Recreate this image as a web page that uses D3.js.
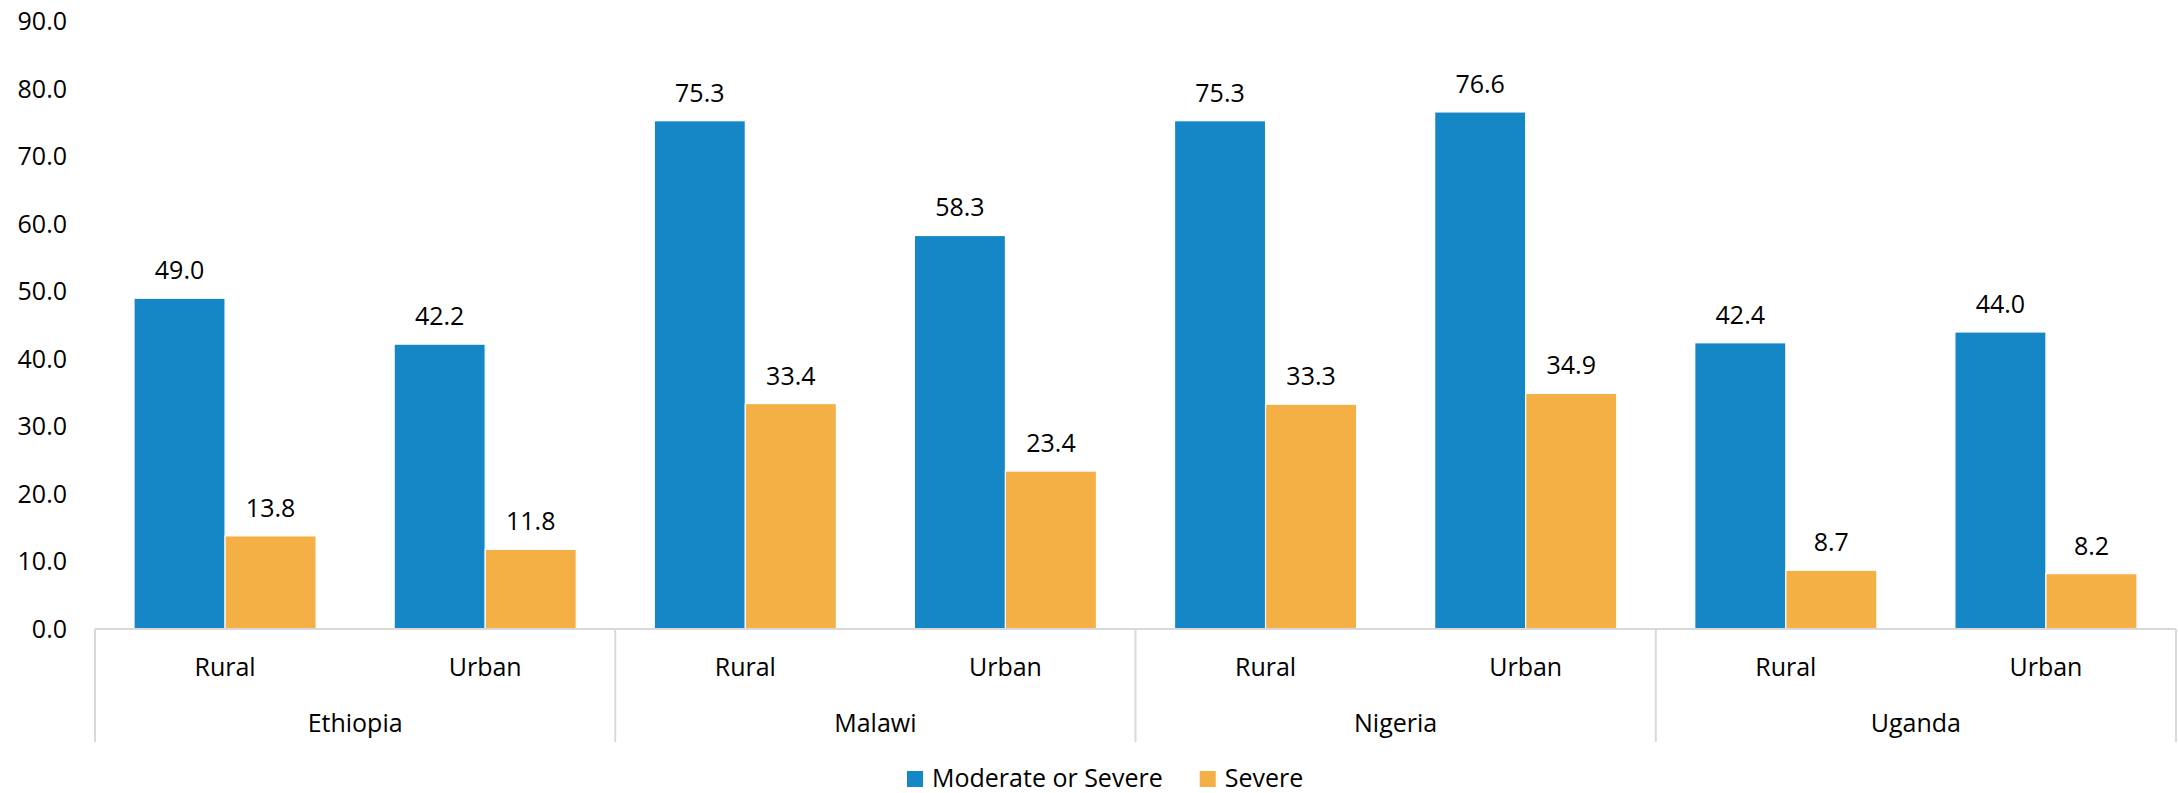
<!DOCTYPE html>
<html>
<head>
<meta charset="utf-8">
<script src="https://cdn.jsdelivr.net/npm/d3@7"></script>
<style>
  html, body { margin: 0; padding: 0; background: #fff; }
  svg { display: block; font-family: "Open Sans", sans-serif; }
</style>
</head>
<body>
<svg id="chart" width="2178" height="793"></svg>
<script>
const countries = ["Ethiopia", "Malawi", "Nigeria", "Uganda"];
const areas = ["Rural", "Urban"];
const seriesNames = ["Moderate or Severe", "Severe"];
const moderateOrSevere = [49.0, 42.2, 75.3, 58.3, 75.3, 76.6, 42.4, 44.0];
const severe = [13.8, 11.8, 33.4, 23.4, 33.3, 34.9, 8.7, 8.2];
const yTicks = [0, 10, 20, 30, 40, 50, 60, 70, 80, 90];
const colors = ["#1586C6", "#F4AF45"];

(function () {
const svg = d3.select("#chart");
const mLeft = 95, mRight = 2176, mTop = 21.5, base = 629, boxBottom = 742;
const fontSize = 25;

const cats = [];
countries.forEach(c => areas.forEach(a => cats.push(c + "|" + a)));

const x = d3.scaleBand().domain(cats).range([mLeft, mRight]).paddingInner(0.3).paddingOuter(0.15);
const xg = d3.scaleBand().domain(countries).range([mLeft, mRight]);
const xs = d3.scaleBand().domain(seriesNames).range([0, x.bandwidth()]);
const y = d3.scaleLinear().domain([0, 90]).range([base, mTop]);

// Y axis labels
const yAxis = d3.axisLeft(y).tickValues(yTicks).tickFormat(d3.format(".1f")).tickSize(0).tickPadding(28);
const ya = svg.append("g").attr("transform", `translate(${mLeft},0)`).call(yAxis);
ya.select(".domain").remove();
ya.selectAll("text").attr("font-size", fontSize).attr("fill", "#000").attr("font-family", "Open Sans");

// Bars
const rows = cats.map((c, i) => ({ cat: c, vals: [moderateOrSevere[i], severe[i]] }));
const g = svg.append("g");
rows.forEach(r => {
  r.vals.forEach((v, j) => {
    const bx = x(r.cat) + xs(seriesNames[j]);
    g.append("rect")
      .attr("x", bx).attr("y", y(v))
      .attr("width", xs.bandwidth()).attr("height", y(0) - y(v))
      .attr("fill", colors[j]).attr("stroke", "#fff").attr("stroke-width", 1.2);
    g.append("text")
      .attr("x", bx + xs.bandwidth() / 2).attr("y", y(v) - 19)
      .attr("text-anchor", "middle").attr("font-size", fontSize).attr("fill", "#000")
      .text(d3.format(".1f")(v));
  });
});

// Category axis box
const axisG = svg.append("g");
axisG.append("line").attr("x1", mLeft).attr("x2", mRight).attr("y1", base).attr("y2", base)
  .attr("stroke", "#D9D9D9").attr("stroke-width", 2);
const dividers = countries.map(c => xg(c)).concat([mRight]);
dividers.forEach(dx => {
  axisG.append("line").attr("x1", dx).attr("x2", dx).attr("y1", base).attr("y2", boxBottom)
    .attr("stroke", "#D9D9D9").attr("stroke-width", 2);
});
cats.forEach(c => {
  axisG.append("text").attr("x", x(c) + x.bandwidth() / 2).attr("y", 667)
    .attr("dy", "0.35em").attr("text-anchor", "middle").attr("font-size", fontSize).attr("fill", "#000")
    .text(c.split("|")[1]);
});
countries.forEach(c => {
  axisG.append("text").attr("x", xg(c) + xg.bandwidth() / 2).attr("y", 723)
    .attr("dy", "0.35em").attr("text-anchor", "middle").attr("font-size", fontSize).attr("fill", "#000")
    .text(c);
});

// Legend
const leg = svg.append("g");
let lx = 907;
seriesNames.forEach((s, i) => {
  leg.append("rect").attr("x", lx).attr("y", 771).attr("width", 16).attr("height", 16).attr("fill", colors[i]);
  const t = leg.append("text").attr("x", lx + 25).attr("y", 778).attr("dy", "0.35em")
    .attr("font-size", fontSize).attr("fill", "#000").text(s);
  lx = lx + 25 + t.node().getComputedTextLength() + 37;
});
})();
</script>
</body>
</html>
